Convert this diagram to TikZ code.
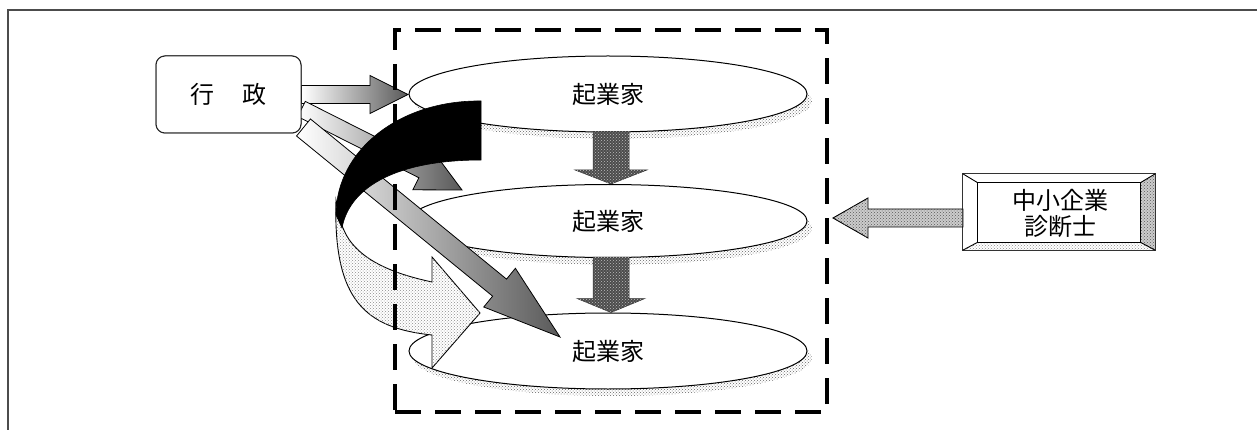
\documentclass[tikz,border=0pt]{standalone}
\usepackage{fontspec}
\newfontfamily\jpfont{Noto Sans CJK JP}
\usetikzlibrary{calc,patterns,shapes.geometric}

\newcommand\blockarrow[6]{%
  \path let \p1=#1, \p2=#2 in \pgfextra{%
    \pgfmathsetmacro\bkang{atan2(\y2-\y1,\x2-\x1)}%
    \pgfmathsetmacro\bklen{veclen(\x2-\x1,\y2-\y1)}%
    \xdef\bkang{\bkang}\xdef\bklen{\bklen}%
    \xdef\bkx{\x1}\xdef\bky{\y1}};
  \path[shift={(\bkx,\bky)}, rotate=\bkang, x=1pt, y=1pt, #6]
    (0,-#3) -- (\bklen-#5,-#3) -- (\bklen-#5,-#4) -- (\bklen,0)
    -- (\bklen-#5,#4) -- (\bklen-#5,#3) -- (0,#3) -- cycle;}

\begin{document}
\begin{tikzpicture}[x=1pt,y=-1pt,
  framel/.style={draw=black!70, line width=1.3pt},
  grpbox/.style={draw=black, line width=3.2pt, dash pattern=on 26pt off 14pt,
    minimum width=432pt, minimum height=382pt, inner sep=0pt},
  ellnode/.style={ellipse, draw, line width=1pt, fill=white, minimum width=398pt,
    minimum height=76pt, inner sep=0pt, font=\jpfont\fontsize{24pt}{26pt}\selectfont},
  shadowpat/.style={pattern=crosshatch dots, pattern color=black!60},
  dnarrow/.style={draw=black!80, line width=0.5pt, fill=black!70,
    postaction={pattern=crosshatch dots, pattern color=gray!50}},
  gradarrow/.style={draw=black, line width=0.8pt, left color=white, right color=black!65},
  lightpat/.style={fill=white, postaction={pattern=crosshatch dots, pattern color=black!45}},
  medpat/.style={fill=gray!40, postaction={pattern=crosshatch dots, pattern color=black!65}},
  gybox/.style={draw=black!85, line width=1pt, rounded corners=9pt, fill=white,
    minimum width=145pt, minimum height=77pt, inner sep=0pt,
    font=\jpfont\fontsize{24pt}{26pt}\selectfont},
  jptext/.style={font=\jpfont\fontsize{24pt}{26pt}\selectfont, align=center, inner sep=0pt}
]
\useasboundingbox (0,0) rectangle (1257,430);
\fill[white] (0,0) rectangle (1257,430);

% outer frame
\coordinate (fTL) at (8,10);
\coordinate (fTR) at (1257,10);
\coordinate (fBL) at (8,430);
\draw[framel] (fTR) -- (fTL) -- (fBL);

% ellipse shadows
\fill[shadowpat] (613,101) ellipse [x radius=199pt, y radius=38pt];
\fill[shadowpat] (613,228) ellipse [x radius=199pt, y radius=37pt];
\fill[shadowpat] (613,358) ellipse [x radius=199pt, y radius=38pt];

% ellipses
\node[ellnode] (e1) at (608,94) {起業家};
\node[ellnode, minimum height=73pt] (e2) at (608,221) {起業家};
\node[ellnode] (e3) at (608,351) {起業家};

% down arrows
\blockarrow{($(e1.south)+(3,-1)$)}{($(e2.north)+(3,0)$)}{18}{36}{14}{dnarrow}
\blockarrow{($(e2.south)+(3,-1)$)}{($(e3.north)+(3,0)$)}{18}{34}{14}{dnarrow}

% 中小企業診断士 (bevel box)
\node[minimum width=192pt, minimum height=76pt, inner sep=0pt] (sh) at (1059,212) {};
\coordinate (iNW) at ($(sh.north west)+(15,9)$);
\coordinate (iNE) at ($(sh.north east)+(-15,9)$);
\coordinate (iSE) at ($(sh.south east)+(-15,-8)$);
\coordinate (iSW) at ($(sh.south west)+(15,-8)$);
\fill[white] (sh.north west) rectangle (sh.south east);
\path[medpat] (sh.north east) -- (sh.south east) -- (iSE) -- (iNE) -- cycle;
\path[lightpat] (sh.south west) -- (sh.south east) -- (iSE) -- (iSW) -- cycle;
\draw[line width=1.3pt, draw=black!80] (sh.north west) rectangle (sh.south east);
\draw[line width=0.9pt] (iNW) rectangle (iSE);
\draw[line width=0.9pt] (sh.north west) -- (iNW) (sh.north east) -- (iNE)
  (sh.south east) -- (iSE) (sh.south west) -- (iSW);
\node[jptext] (shtext) at ($(sh.center)+(1,1)$) {中小企業\\[0pt]診断士};

% arrow from 診断士 to group
\coordinate (shs) at ($(sh.west)+(0,6)$);
\coordinate (sht) at (833,218);
\blockarrow{(shs)}{(sht)}{9}{20}{35}{medpat, draw=black, line width=0.9pt}

% 行政 box
\node[gybox] (gy) at (228.5,94.5) {行\hspace{29pt}政};

% arrows from 行政
\coordinate (ta) at (408,94.5);
\blockarrow{(gy.east)}{(ta)}{9}{19}{38}{gradarrow}
\coordinate (sa) at ($(gy.east)+(0,14.5)$);
\coordinate (tipA) at (462,190);
\blockarrow{(sa)}{(tipA)}{8.5}{22}{44}{gradarrow}
\coordinate (sb) at ($(gy.south east)+(2,-6)$);
\coordinate (tipB) at (560,337);
\blockarrow{(sb)}{(tipB)}{11}{25}{78}{gradarrow}

% curved ribbon arrow: light back part
\path[lightpat, draw=black, line width=0.9pt]
  (336,200) .. controls (333,300) and (365,328) .. (432,335)
  -- (432,368) -- (480,313) -- (432,257) -- (432,282)
  .. controls (385,272) and (350,255) .. (341,222) -- cycle;

% group box (dashed)
\node[grpbox] (grp) at (611,221) {};

% curved ribbon arrow: black front part
\path[fill=black, draw=black, line width=0.6pt]
  (481,101) .. controls (400,100) and (336,150) .. (336,215)
  -- (342,228) .. controls (350,185) and (400,160) .. (481,160) -- cycle;

% redraw 行政 box on top
\node[gybox] (gy2) at (gy) {行\hspace{29pt}政};
\end{tikzpicture}
\end{document}
